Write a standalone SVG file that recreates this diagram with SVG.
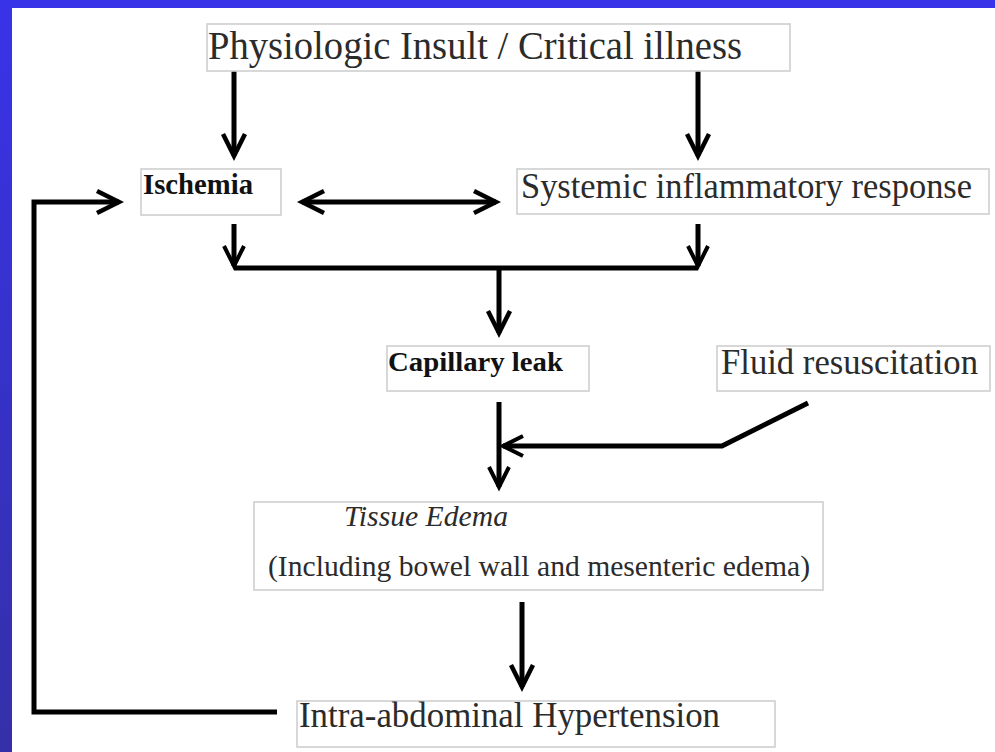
<svg xmlns="http://www.w3.org/2000/svg" width="995" height="752" viewBox="0 0 995 752">
<defs>
<linearGradient id="bg" x1="0" y1="0" x2="0" y2="1">
<stop offset="0" stop-color="#3833E8"/>
<stop offset="1" stop-color="#3530A8"/>
</linearGradient>
<marker id="ah" markerUnits="userSpaceOnUse" markerWidth="40" markerHeight="40" viewBox="-30 -20 40 40" refX="0" refY="0" orient="auto-start-reverse">
<path d="M-22,-11 L0,0 L-22,11" fill="none" stroke="#000" stroke-width="4.5" stroke-linejoin="miter"/>
</marker>
<marker id="ahs" markerUnits="userSpaceOnUse" markerWidth="40" markerHeight="40" viewBox="-30 -20 40 40" refX="0" refY="0" orient="auto-start-reverse">
<path d="M-20,-10 L0,0 L-20,10" fill="none" stroke="#000" stroke-width="4" stroke-linejoin="miter"/>
</marker>
</defs>
<style>
.box{fill:#fff;stroke:#cfcfcf;stroke-width:1.6}
.t{font-family:"Liberation Serif","Times New Roman",Times,serif;fill:#2b2b2b}
.b{font-weight:bold;fill:#111}
.i{font-style:italic}
.c{fill:none;stroke:#000;stroke-width:5;stroke-linejoin:miter}
</style>
<rect x="0" y="0" width="995" height="752" fill="url(#bg)"/>
<rect x="0" y="0" width="995" height="8" fill="#3833E8"/>
<rect x="12" y="8" width="983" height="744" fill="#fff"/>

<g id="connectors">
<path class="c" d="M234,71 V156" marker-end="url(#ah)"/>
<path class="c" d="M698,71 V156" marker-end="url(#ah)"/>
<path class="c" d="M302,202 H496" stroke-width="4.5" marker-start="url(#ah)" marker-end="url(#ah)"/>
<path class="c" d="M234,224 V266"  marker-end="url(#ahs)"/>
<path class="c" d="M698,224 V266"  marker-end="url(#ahs)"/>
<path class="c" d="M234,268 H698"/>
<path class="c" d="M499,268 V333" marker-end="url(#ah)"/>
<path class="c" d="M499,402 V487" marker-end="url(#ahs)"/>
<path class="c" d="M808,403 L722,446 H503" stroke-width="4.5" marker-end="url(#ahs)"/>
<path class="c" d="M522,602 V687" marker-end="url(#ah)"/>
<path class="c" d="M277,712 H34 V202 H119" marker-end="url(#ah)"/>
</g>

<g id="n-physiologic">
<rect class="box" x="207" y="24" width="583" height="47"/>
<text class="t" x="208" y="59" font-size="41" textLength="534" lengthAdjust="spacingAndGlyphs">Physiologic Insult / Critical illness</text>
</g>
<g id="n-ischemia">
<rect class="box" x="141" y="169" width="140" height="46"/>
<text class="t b" x="143" y="194" font-size="30" textLength="110" lengthAdjust="spacingAndGlyphs">Ischemia</text>
</g>
<g id="n-systemic">
<rect class="box" x="517" y="169" width="472" height="45"/>
<text class="t" x="521" y="198" font-size="36" textLength="451" lengthAdjust="spacingAndGlyphs">Systemic inflammatory response</text>
</g>
<g id="n-capillary">
<rect class="box" x="387" y="346" width="202" height="45"/>
<text class="t b" x="388" y="371" font-size="28" textLength="175" lengthAdjust="spacingAndGlyphs">Capillary leak</text>
</g>
<g id="n-fluid">
<rect class="box" x="717" y="346" width="273" height="45"/>
<text class="t" x="721" y="374" font-size="35" textLength="257" lengthAdjust="spacingAndGlyphs">Fluid resuscitation</text>
</g>
<g id="n-tissue">
<rect class="box" x="254" y="502" width="569" height="88"/>
<text class="t i" x="344" y="526" font-size="29" textLength="164" lengthAdjust="spacingAndGlyphs">Tissue Edema</text>
<text class="t" x="268" y="576" font-size="30" textLength="542" lengthAdjust="spacingAndGlyphs">(Including bowel wall and mesenteric edema)</text>
</g>
<g id="n-iah">
<rect class="box" x="297" y="701" width="478" height="46"/>
<text class="t" x="299" y="727" font-size="35" textLength="421" lengthAdjust="spacingAndGlyphs">Intra-abdominal Hypertension</text>
</g>
</svg>
